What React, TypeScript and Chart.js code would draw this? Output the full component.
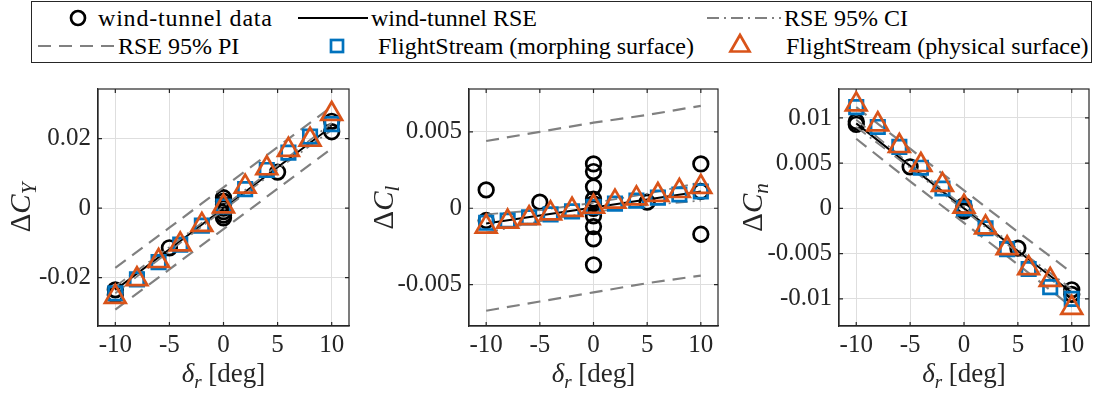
import React, { useEffect, useRef } from "react";
import { Chart, registerables } from "chart.js";
Chart.register(...registerables);

const FONT = '"Liberation Serif", "Times New Roman", serif';
const BLUE = "#0072BD";
const ORANGE = "#D95319";
const GRAY = "#808080";
const INK = "#262626";
const GRID = "#dedede";

// ---------- data ----------
const deflections = [-10, -8, -6, -4, -2, 0, 2, 4, 6, 8, 10];
const fitDeflections = [-10, -5, 0, 5, 10];
const xTickValues = [-10, -5, 0, 5, 10];
const xTickLabels = ["-10", "-5", "0", "5", "10"];

// Delta C_Y
const cyTunnelX = [-10, -10, -5, 0, 0, 0, 0, 0, 0, 0, 5, 10, 10];
const cyTunnelY = [-0.0235, -0.025, -0.0114, 0.003, 0.002, 0.001, 0, -0.001, -0.002, -0.0028, 0.0104, 0.022, 0.025];
const cyMorph = [-0.0245, -0.0205, -0.0155, -0.0105, -0.005, 0.0005, 0.0055, 0.011, 0.016, 0.0206, 0.0242];
const cyPhys = [-0.0255, -0.0204, -0.0152, -0.0104, -0.0048, 0.0005, 0.0062, 0.0115, 0.0168, 0.0197, 0.0271];
const cyRse = [-0.0235, -0.0118, 0, 0.0118, 0.0235];
const cyCiUpper = [-0.0225, -0.0112, 0.0005, 0.0123, 0.0245];
const cyCiLower = [-0.0245, -0.0124, -0.0005, 0.0112, 0.0225];
const cyPiUpper = [-0.0172, -0.0056, 0.006, 0.0176, 0.0292];
const cyPiLower = [-0.0292, -0.0176, -0.006, 0.0056, 0.0172];
const cyTicks = [-0.02, 0, 0.02];
const cyTickLabels = ["-0.02", "0", "0.02"];

// Delta C_l
const clTunnelX = [-10, -10, -5, 0, 0, 0, 0, 0, 0, 0, 0, 0, 0, 5, 10, 10, 10];
const clTunnelY = [0.0012, -0.0008, 0.0004, 0.0029, 0.0024, 0.0014, 0.0006, 0.0003, 0, -0.0005, -0.0012, -0.002, -0.0037, 0.0004, 0.0029, -0.0017, 0.0011];
const clMorph = [-0.00095, -0.0008, -0.0006, -0.0004, -0.0002, 0.0001, 0.0003, 0.0005, 0.0007, 0.0009, 0.0011];
const clPhys = [-0.0012, -0.00087, -0.00065, -0.00033, -0.0001, 0.0001, 0.00043, 0.00065, 0.00087, 0.00113, 0.0014];
const clRse = [-0.001, -0.00048, 0.00005, 0.00058, 0.0011];
const clCiUpper = [-0.0004, -0.00012, 0.00035, 0.00095, 0.0017];
const clCiLower = [-0.0016, -0.00085, -0.00025, 0.0002, 0.0005];
const clPiUpper = [0.0044, 0.005, 0.0056, 0.0061, 0.0067];
const clPiLower = [-0.0067, -0.0061, -0.0055, -0.0049, -0.0044];
const clTicks = [-0.005, 0, 0.005];
const clTickLabels = ["-0.005", "0", "0.005"];

// Delta C_n
const cnTunnelX = [-10, -10, -5, 0, 0, 0, 5, 10, 10];
const cnTunnelY = [0.0093, 0.0096, 0.0046, 0.0003, 0, -0.0003, -0.0044, -0.009, -0.0095];
const cnMorph = [0.0112, 0.009, 0.0068, 0.0045, 0.0022, 0.0, -0.0022, -0.0045, -0.0067, -0.0087, -0.01];
const cnPhys = [0.0115, 0.0093, 0.0069, 0.0048, 0.0026, 0.0002, -0.0021, -0.0044, -0.0066, -0.0079, -0.011];
const cnRse = [0.0094, 0.0047, 0.0, -0.0047, -0.0093];
const cnCiUpper = [0.0098, 0.0049, 0.0002, -0.0045, -0.0089];
const cnCiLower = [0.009, 0.0045, -0.0002, -0.0049, -0.0097];
const cnPiUpper = [0.0112, 0.0066, 0.002, -0.0026, -0.0071];
const cnPiLower = [0.0077, 0.003, -0.0016, -0.0062, -0.0109];
const cnTicks = [-0.01, -0.005, 0, 0.005, 0.01];
const cnTickLabels = ["-0.01", "-0.005", "0", "0.005", "0.01"];

// ---------- layout ----------
const CANVAS_TOP = 70;
const CANVAS_H = 327;
const PLOT_TOP = 89;
const PLOT_BOTTOM = 326;

type Part = { t: string; italic?: boolean; sub?: boolean };

function drawRich(ctx: CanvasRenderingContext2D, parts: Part[], size: number, ax: number, ay: number, rotate: boolean) {
  ctx.save();
  ctx.translate(ax, ay);
  if (rotate) ctx.rotate(-Math.PI / 2);
  const subSize = Math.round(size * 0.72);
  const font = (p: Part) => `${p.italic ? "italic " : ""}${p.sub ? subSize : size}px ${FONT}`;
  let total = 0;
  const ws = parts.map((p) => {
    ctx.font = font(p);
    const w = ctx.measureText(p.t).width;
    total += w;
    return w;
  });
  let x = -total / 2;
  ctx.fillStyle = INK;
  ctx.textBaseline = "alphabetic";
  ctx.textAlign = "left";
  parts.forEach((p, i) => {
    ctx.font = font(p);
    ctx.fillText(p.t, x, p.sub ? size * 0.22 : 0);
    x += ws[i];
  });
  ctx.restore();
}

const framePlugin = {
  id: "frame",
  beforeDatasetsDraw(chart: any, _a: any, opts: any) {
    const { ctx, chartArea: a, scales } = chart;
    ctx.save();
    ctx.strokeStyle = INK;
    ctx.lineWidth = 1.2;
    ctx.strokeRect(a.left, a.top, a.right - a.left, a.bottom - a.top);
    const tl = 4;
    ctx.beginPath();
    for (const v of xTickValues) {
      const px = scales.x.getPixelForValue(v);
      ctx.moveTo(px, a.bottom);
      ctx.lineTo(px, a.bottom - tl);
      ctx.moveTo(px, a.top);
      ctx.lineTo(px, a.top + tl);
    }
    for (const v of opts.yTicks as number[]) {
      const py = scales.y.getPixelForValue(v);
      ctx.moveTo(a.left, py);
      ctx.lineTo(a.left + tl, py);
      ctx.moveTo(a.right, py);
      ctx.lineTo(a.right - tl, py);
    }
    ctx.stroke();
    ctx.restore();
  },
  afterDraw(chart: any, _a: any, opts: any) {
    const { ctx, chartArea: a } = chart;
    drawRich(
      ctx,
      [{ t: "Δ" }, { t: "C", italic: true }, { t: opts.sub, italic: true, sub: true }],
      29,
      opts.yTitleX,
      (a.top + a.bottom) / 2,
      true
    );
    drawRich(
      ctx,
      [{ t: "δ", italic: true }, { t: "r", italic: true, sub: true }, { t: " [deg]" }],
      27,
      (a.left + a.right) / 2,
      opts.xTitleY,
      false
    );
  },
};

type PanelDef = {
  plotLeft: number;
  plotRight: number;
  canvasLeft: number;
  yMin: number;
  yMax: number;
  yTicks: number[];
  yTickLabels: string[];
  tunnelX: number[];
  tunnelY: number[];
  morph: number[];
  phys: number[];
  rse: number[];
  ciU: number[];
  ciL: number[];
  piU: number[];
  piL: number[];
  sub: string;
  yTitleX: number; // page x of rotated baseline
};

const panels: PanelDef[] = [
  {
    plotLeft: 98, plotRight: 349, canvasLeft: 0, yMin: -0.0339, yMax: 0.0343,
    yTicks: cyTicks, yTickLabels: cyTickLabels, tunnelX: cyTunnelX, tunnelY: cyTunnelY,
    morph: cyMorph, phys: cyPhys, rse: cyRse, ciU: cyCiUpper, ciL: cyCiLower, piU: cyPiUpper, piL: cyPiLower,
    sub: "Y", yTitleX: 30,
  },
  {
    plotLeft: 469, plotRight: 718, canvasLeft: 360, yMin: -0.0077, yMax: 0.0078,
    yTicks: clTicks, yTickLabels: clTickLabels, tunnelX: clTunnelX, tunnelY: clTunnelY,
    morph: clMorph, phys: clPhys, rse: clRse, ciU: clCiUpper, ciL: clCiLower, piU: clPiUpper, piL: clPiLower,
    sub: "l", yTitleX: 393,
  },
  {
    plotLeft: 839, plotRight: 1089, canvasLeft: 730, yMin: -0.013, yMax: 0.0132,
    yTicks: cnTicks, yTickLabels: cnTickLabels, tunnelX: cnTunnelX, tunnelY: cnTunnelY,
    morph: cnMorph, phys: cnPhys, rse: cnRse, ciU: cnCiUpper, ciL: cnCiLower, piU: cnPiUpper, piL: cnPiLower,
    sub: "n", yTitleX: 762,
  },
];

const pts = (xs: number[], ys: number[]) => xs.map((x, i) => ({ x, y: ys[i] }));

function labelFor(vals: number[], labels: string[], v: number) {
  const i = vals.findIndex((t) => Math.abs(t - v) < 1e-9);
  return i >= 0 ? labels[i] : "";
}

function Panel({ def }: { def: PanelDef }) {
  const ref = useRef<HTMLCanvasElement | null>(null);
  const width = def.plotRight - def.canvasLeft + 4;
  const yAxisWidth = def.plotLeft - def.canvasLeft;
  useEffect(() => {
    if (!ref.current) return;
    const lineBase = { showLine: true, pointRadius: 0, fill: false, tension: 0 };
    const chart = new Chart(ref.current, {
      type: "scatter",
      data: {
        datasets: [
          {
            label: "FlightStream (physical surface)", data: pts(deflections, def.phys),
            pointStyle: "triangle", pointRadius: 12, borderColor: ORANGE, backgroundColor: "rgba(0,0,0,0)",
            borderWidth: 2.7, order: 1, clip: false,
          } as any,
          {
            label: "FlightStream (morphing surface)", data: pts(deflections, def.morph),
            pointStyle: "rect", pointRadius: 9.5, borderColor: BLUE, backgroundColor: "rgba(0,0,0,0)",
            borderWidth: 2.7, order: 2, clip: false,
          },
          { label: "RSE 95% PI", data: pts(fitDeflections, def.piU), ...lineBase, borderColor: GRAY, borderWidth: 2.2, borderDash: [13, 8], order: 3 },
          { label: "RSE 95% PI lower", data: pts(fitDeflections, def.piL), ...lineBase, borderColor: GRAY, borderWidth: 2.2, borderDash: [13, 8], order: 3 },
          { label: "RSE 95% CI", data: pts(fitDeflections, def.ciU), ...lineBase, borderColor: GRAY, borderWidth: 1.8, borderDash: [12, 5, 2, 5], order: 4 },
          { label: "RSE 95% CI lower", data: pts(fitDeflections, def.ciL), ...lineBase, borderColor: GRAY, borderWidth: 1.8, borderDash: [12, 5, 2, 5], order: 4 },
          { label: "wind-tunnel RSE", data: pts(fitDeflections, def.rse), ...lineBase, borderColor: "#000", borderWidth: 2, order: 5 },
          {
            label: "wind-tunnel data", data: pts(def.tunnelX, def.tunnelY),
            pointStyle: "circle", pointRadius: 7.3, borderColor: "#000", backgroundColor: "rgba(0,0,0,0)",
            borderWidth: 2.7, order: 6, clip: false,
          },
        ] as any,
      },
      options: {
        animation: false,
        responsive: false,
        events: [],
        layout: { autoPadding: false, padding: { top: PLOT_TOP - CANVAS_TOP, right: 4, left: 0, bottom: 0 } },
        plugins: {
          legend: { display: false },
          tooltip: { enabled: false },
          frame: { yTicks: def.yTicks, sub: def.sub, yTitleX: def.yTitleX - def.canvasLeft, xTitleY: 382 - CANVAS_TOP },
        } as any,
        scales: {
          x: {
            type: "linear", min: -11.6, max: 11.6,
            afterBuildTicks: (s: any) => { s.ticks = xTickValues.map((v) => ({ value: v })); },
            afterFit: (s: any) => {
              s.height = CANVAS_H - (PLOT_BOTTOM - CANVAS_TOP);
              s.paddingLeft = 0;
              s.paddingRight = 0;
            },
            ticks: {
              callback: (v: any) => labelFor(xTickValues, xTickLabels, Number(v)),
              font: { family: FONT, size: 25 }, color: INK, padding: 4, maxRotation: 0, autoSkip: false,
            },
            grid: { color: GRID, lineWidth: 1, drawTicks: false },
            border: { color: INK, width: 1.2 },
          },
          y: {
            type: "linear", min: def.yMin, max: def.yMax,
            afterBuildTicks: (s: any) => { s.ticks = def.yTicks.map((v) => ({ value: v })); },
            afterFit: (s: any) => {
              s.width = yAxisWidth;
              s.paddingTop = 0;
              s.paddingBottom = 0;
            },
            ticks: {
              callback: (v: any) => labelFor(def.yTicks, def.yTickLabels, Number(v)),
              font: { family: FONT, size: 25 }, color: INK, padding: 7, autoSkip: false,
            },
            grid: { color: GRID, lineWidth: 1, drawTicks: false },
            border: { color: INK, width: 1.2 },
          },
        },
      },
      plugins: [framePlugin],
    });
    return () => chart.destroy();
  }, []);
  return (
    <canvas
      ref={ref}
      width={width}
      height={CANVAS_H}
      style={{ position: "absolute", left: def.canvasLeft, top: CANVAS_TOP, width, height: CANVAS_H }}
    />
  );
}

const txt: React.CSSProperties = {
  position: "absolute",
  fontFamily: FONT,
  fontSize: 24,
  lineHeight: "24px",
  color: "#000",
  whiteSpace: "nowrap",
};

function Legend() {
  const r1 = 17;
  const r2 = 45;
  const o = 31;
  return (
    <div style={{ position: "absolute", left: o, top: 1, width: 1059, height: 60, border: "1.2px solid #262626", background: "#fff" }}>
      <svg width={1059} height={60} style={{ position: "absolute", left: 0, top: 0 }}>
        <circle cx={77 - o} cy={r1 - 1} r={7} fill="none" stroke="#000" strokeWidth={2.7} />
        <line x1={297 - o} y1={r1 - 1} x2={367 - o} y2={r1 - 1} stroke="#000" strokeWidth={2} />
        <line x1={706 - o} y1={r1 - 1} x2={780 - o} y2={r1 - 1} stroke={GRAY} strokeWidth={1.8} strokeDasharray="12 5 2 5" />
        <line x1={37 - o} y1={r2 - 1} x2={113 - o} y2={r2 - 1} stroke={GRAY} strokeWidth={2.2} strokeDasharray="13 8" />
        <rect x={336 - o - 6} y={r2 - 1 - 6} width={12} height={12} fill="none" stroke={BLUE} strokeWidth={2.7} />
        <polygon
          points={`${739 - o},${r2 - 1 - 11} ${739 - o - 9.5},${r2 - 1 + 5.5} ${739 - o + 9.5},${r2 - 1 + 5.5}`}
          fill="none" stroke={ORANGE} strokeWidth={2.7} />
      </svg>
      <span style={{ ...txt, left: 97 - o, top: r1 - 13, letterSpacing: "0.8px" }}>wind-tunnel data</span>
      <span style={{ ...txt, left: 370 - o, top: r1 - 13 }}>wind-tunnel RSE</span>
      <span style={{ ...txt, left: 783 - o, top: r1 - 13 }}>RSE 95% CI</span>
      <span style={{ ...txt, left: 117 - o, top: r2 - 13 }}>RSE 95% PI</span>
      <span style={{ ...txt, left: 377 - o, top: r2 - 13 }}>FlightStream (morphing surface)</span>
      <span style={{ ...txt, left: 785 - o, top: r2 - 13 }}>FlightStream (physical surface)</span>
    </div>
  );
}

export default function App() {
  return (
    <div style={{ position: "fixed", left: 0, top: 0, width: 1093, height: 397, background: "#fff", overflow: "hidden" }}>
      <Legend />
      {panels.map((p, i) => (
        <Panel key={i} def={p} />
      ))}
    </div>
  );
}
